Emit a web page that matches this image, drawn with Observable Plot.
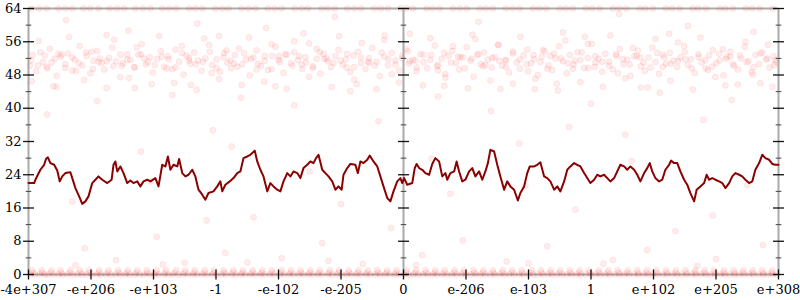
<!DOCTYPE html>
<html>
<head>
<meta charset="utf-8">
<script src="https://cdn.jsdelivr.net/npm/d3@7"></script>
<script src="https://cdn.jsdelivr.net/npm/@observablehq/plot@0.6"></script>
<style>
  html, body { margin: 0; padding: 0; background: #fff; }
  #chart svg { display: block; }
</style>
</head>
<body>
<div id="chart"></div>
<script>
// ---- tick positions / labels (x is the ordered bit position of a double, -6..6 = full range)
const xTickPos = [-6, -5, -4, -3, -2, -1, 0, 1, 2, 3, 4, 5, 6];
const xTickLabels = ["-4e+307", "-e+206", "-e+103", "-1", "-e-102", "-e-205", "0", "e-206", "e-103", "1", "e+102", "e+205", "e+308"];
const yMajor = [0, 8, 16, 24, 32, 40, 48, 56, 64];
const yMinor = [4, 12, 20, 28, 36, 44, 52, 60];
const axisPos = [-6, 0, 6];

// ---- moving-average line
const lineX = [-6.00,-5.91,-5.89,-5.81,-5.75,-5.72,-5.69,-5.65,-5.59,-5.54,-5.50,-5.46,-5.41,-5.33,-5.30,-5.25,-5.19,-5.14,-5.09,-5.04,-4.98,-4.93,-4.88,-4.82,-4.74,-4.67,-4.64,-4.61,-4.58,-4.53,-4.48,-4.42,-4.37,-4.32,-4.26,-4.21,-4.16,-4.10,-4.05,-3.97,-3.92,-3.86,-3.81,-3.77,-3.73,-3.68,-3.62,-3.59,-3.54,-3.49,-3.44,-3.38,-3.33,-3.28,-3.22,-3.17,-3.12,-3.04,-2.98,-2.93,-2.90,-2.85,-2.78,-2.72,-2.66,-2.61,-2.56,-2.50,-2.45,-2.38,-2.34,-2.29,-2.24,-2.18,-2.13,-2.08,-2.02,-1.97,-1.92,-1.86,-1.81,-1.76,-1.70,-1.65,-1.60,-1.54,-1.49,-1.44,-1.40,-1.36,-1.30,-1.25,-1.20,-1.14,-1.09,-1.04,-0.99,-0.96,-0.90,-0.85,-0.77,-0.73,-0.69,-0.64,-0.58,-0.54,-0.48,-0.42,-0.37,-0.32,-0.26,-0.21,-0.16,-0.10,-0.05,-0.02,
  0.01,0.06,0.14,0.18,0.21,0.25,0.30,0.35,0.41,0.46,0.51,0.57,0.62,0.67,0.70,0.75,0.81,0.85,0.89,0.94,0.99,1.05,1.10,1.15,1.21,1.26,1.31,1.35,1.39,1.45,1.50,1.55,1.61,1.66,1.71,1.77,1.83,1.87,1.93,1.98,2.02,2.09,2.14,2.19,2.25,2.30,2.35,2.41,2.46,2.51,2.57,2.62,2.67,2.73,2.78,2.83,2.89,2.94,2.99,3.05,3.10,3.15,3.21,3.26,3.31,3.37,3.42,3.47,3.53,3.58,3.63,3.69,3.74,3.79,3.85,3.90,3.94,3.98,4.03,4.09,4.14,4.19,4.25,4.28,4.33,4.38,4.43,4.49,4.54,4.59,4.65,4.69,4.75,4.81,4.85,4.89,4.94,4.99,5.05,5.10,5.15,5.21,5.26,5.31,5.37,5.42,5.47,5.53,5.58,5.63,5.69,5.74,5.79,5.85,5.90,5.95,6.00];
const lineY = [22.0,22.0,22.8,25.2,26.4,27.8,28.2,26.8,26.4,25.0,22.4,23.6,24.4,24.6,23.2,20.8,18.8,17.0,17.6,18.8,22.0,22.8,23.6,22.8,22.0,22.8,26.4,27.2,24.8,26.0,24.4,22.0,22.6,22.0,22.4,21.2,22.4,22.8,22.4,23.2,21.2,26.4,26.0,28.4,25.2,26.4,26.0,27.8,24.4,23.6,24.0,25.2,23.6,20.4,19.2,18.0,19.6,20.0,21.2,22.4,20.0,21.6,22.4,23.2,24.4,24.8,28.0,28.4,28.8,29.8,27.2,25.2,23.6,20.0,22.0,21.2,20.4,20.0,22.4,24.4,23.6,24.8,24.4,23.2,25.6,26.4,27.2,26.8,28.0,28.8,25.2,24.4,23.6,22.4,20.4,21.2,20.4,24.0,25.6,26.6,26.4,24.4,27.2,26.8,27.6,28.6,27.2,26.0,23.6,21.2,18.4,17.6,20.0,22.4,23.2,22.0,
  23.2,21.6,22.0,25.6,26.6,25.6,25.2,24.4,24.0,26.6,28.0,27.2,23.6,24.4,22.8,24.4,24.8,27.2,24.8,22.4,22.8,24.8,25.6,23.6,24.8,22.8,24.8,26.8,30.0,29.6,26.4,23.6,20.4,22.4,21.2,20.4,17.8,19.6,21.2,24.4,26.0,26.0,26.4,27.0,23.6,23.2,22.4,20.4,21.2,20.0,22.4,25.2,26.0,26.8,26.4,26.0,24.4,23.2,22.0,22.8,24.0,23.6,24.0,23.2,22.4,23.2,24.8,26.4,26.0,25.2,26.0,25.2,24.0,22.4,24.4,25.6,26.8,24.8,23.2,22.4,22.8,25.2,26.4,27.4,26.8,26.8,24.8,22.8,21.6,19.6,17.6,20.4,21.2,22.0,24.0,22.8,23.2,22.8,22.4,22.0,20.8,22.0,23.6,24.4,24.0,23.6,22.8,22.0,22.4,25.2,26.8,28.8,28.0,27.6,26.6,26.4,26.4];

// ---- scatter samples (x = bit position, y = value)
const bandA = [[-5.98,50.2],[-5.93,52.8],[-5.88,48.9],[-5.81,53.5],[-5.77,51.1],[-5.70,49.6],[-5.66,54.3],[-5.58,51.9],[-5.55,47.8],[-5.49,52.4],[-5.41,50.6],[-5.37,53.2],[-5.30,49.1],[-5.26,51.7],[-5.18,55.0],[-5.14,50.3],[-5.07,52.6],[-5.01,48.4],[-4.96,51.4],[-4.90,53.8],[-4.83,50.9],[-4.79,49.3],[-4.71,52.1],[-4.66,54.6],[-4.60,51.3],[-4.53,47.5],[-4.49,50.8],[-4.42,53.0],[-4.37,51.6],[-4.30,49.8],[-4.24,52.9],[-4.19,55.4],[-4.12,50.5],[-4.06,52.3],[-4.01,48.6],[-3.94,51.9],[-3.88,53.7],[-3.83,50.0],[-3.77,52.5],[-3.70,49.4],[-3.65,54.1],[-3.59,51.2],[-3.52,48.1],[-3.47,52.7],[-3.41,50.7],[-3.35,53.4],[-3.29,51.5],[-3.23,49.0],[-3.17,52.0],[-3.11,55.2],[-3.06,50.4],[-2.99,51.8],[-2.94,48.8],[-2.87,53.3],[-2.82,51.0],[-2.76,49.7],[-2.70,52.8],[-2.63,54.4],[-2.58,50.6],[-2.52,51.7],[-2.46,47.9],[-2.40,52.2],[-2.35,53.9],[-2.28,50.2],[-2.22,51.4],[-2.17,49.2],[-2.10,52.6],[-2.05,54.8],[-1.98,51.1],[-1.92,48.5],[-1.87,52.9],[-1.80,50.8],[-1.75,53.5],[-1.69,51.6],[-1.62,49.5],[-1.57,52.3],[-1.51,55.6],[-1.45,50.1],[-1.39,51.9],[-1.33,48.3],[-1.28,53.1],[-1.21,51.3],[-1.16,49.9],[-1.09,52.5],[-1.04,54.0],[-0.97,50.5],[-0.92,51.8],[-0.85,48.7],[-0.80,52.7],[-0.73,53.6],[-0.68,50.9],[-0.61,49.4],[-0.55,52.1],[-0.50,54.5],[-0.43,51.2],[-0.38,47.7],[-0.31,52.4],[-0.25,50.3],[-0.19,53.3],[-0.13,51.5],[-0.07,49.1],[-0.02,52.0],
  [0.04,54.2],[0.09,50.7],[0.15,51.6],[0.21,48.9],[0.27,53.0],[0.32,51.1],[0.38,49.6],[0.44,52.8],[0.50,55.1],[0.55,50.4],[0.61,51.9],[0.67,48.2],[0.72,52.6],[0.78,53.8],[0.84,50.9],[0.89,49.3],[0.95,52.2],[1.01,54.7],[1.07,51.4],[1.12,47.6],[1.18,52.9],[1.24,50.6],[1.29,53.4],[1.35,51.7],[1.41,49.8],[1.46,52.3],[1.52,55.3],[1.58,50.2],[1.64,51.5],[1.69,48.6],[1.75,53.2],[1.81,51.0],[1.86,49.5],[1.92,52.7],[1.98,54.1],[2.04,50.8],[2.09,51.8],[2.15,48.0],[2.21,52.4],[2.26,53.7],[2.32,50.3],[2.38,49.2],[2.43,52.0],[2.49,54.9],[2.55,51.3],[2.61,48.4],[2.66,52.8],[2.72,50.5],[2.78,53.5],[2.83,51.6],[2.89,49.7],[2.95,52.1],[3.01,55.5],[3.06,50.0],[3.12,51.9],[3.18,48.8],[3.23,53.1],[3.29,51.2],[3.35,49.4],[3.41,52.6],[3.46,54.3],[3.52,50.6],[3.58,51.7],[3.63,47.8],[3.69,52.5],[3.75,53.9],[3.80,50.1],[3.86,49.0],[3.92,52.2],[3.98,54.6],[4.03,51.1],[4.09,48.3],[4.15,52.9],[4.20,50.7],[4.26,53.3],[4.32,51.4],[4.38,49.9],[4.43,52.3],[4.49,55.0],[4.55,50.4],[4.60,51.8],[4.66,48.5],[4.72,53.0],[4.77,51.0],[4.83,49.6],[4.89,52.7],[4.95,54.0],[5.00,50.9],[5.06,51.5],[5.12,47.9],[5.17,52.4],[5.23,53.6],[5.29,50.2],[5.35,49.3],[5.40,52.0],[5.46,54.8],[5.52,51.3],[5.57,48.7],[5.63,52.8],[5.69,50.6],[5.74,53.4],[5.80,51.7],[5.86,49.8],[5.92,52.5],[5.97,51.0]];
const bandB = [[-5.95,46.5],[-5.84,56.2],[-5.71,50.0],[-5.60,45.3],[-5.47,52.9],[-5.35,57.1],[-5.24,49.0],[-5.11,46.8],[-4.99,53.6],[-4.88,51.2],[-4.75,44.9],[-4.63,56.5],[-4.51,50.2],[-4.39,47.3],[-4.27,54.7],[-4.15,52.0],[-4.03,45.8],[-3.91,57.4],[-3.79,49.6],[-3.67,46.1],[-3.55,55.0],[-3.43,51.4],[-3.31,44.4],[-3.19,56.8],[-3.07,48.5],[-2.95,47.0],[-2.83,53.9],[-2.71,50.8],[-2.59,45.6],[-2.47,57.0],[-2.35,49.3],[-2.23,46.4],[-2.11,55.4],[-1.99,52.5],[-1.87,44.7],[-1.75,56.1],[-1.63,50.5],[-1.51,47.6],[-1.39,54.3],[-1.27,51.9],[-1.15,45.1],[-1.03,57.3],[-0.91,49.8],[-0.79,46.9],[-0.67,55.7],[-0.55,50.9],[-0.43,44.6],[-0.31,56.4],[-0.19,48.2],[-0.07,46.2],[0.07,53.7],[0.19,51.5],[0.31,45.5],[0.43,56.9],[0.55,49.1],[0.67,47.4],[0.79,54.9],[0.91,52.3],[1.03,44.8],[1.15,56.6],[1.27,50.1],[1.39,46.7],[1.51,55.2],[1.63,51.6],[1.75,45.9],[1.87,57.2],[1.99,48.9],[2.11,47.1],[2.23,54.0],[2.35,52.6],[2.47,44.3],[2.59,56.3],[2.71,49.5],[2.83,46.3],[2.95,55.5],[3.07,51.0],[3.19,45.2],[3.31,57.5],[3.43,48.4],[3.55,47.2],[3.67,54.5],[3.79,52.2],[3.91,45.0],[4.03,56.7],[4.15,50.0],[4.27,46.6],[4.39,55.8],[4.51,51.8],[4.63,44.5],[4.75,57.0],[4.87,49.2],[4.99,47.5],[5.11,54.2],[5.23,52.4],[5.35,45.7],[5.47,56.0],[5.59,48.1],[5.71,46.0],[5.83,55.3],[5.95,51.6]];
const bandC = [[-5.96,51.5],[-5.85,50.3],[-5.74,52.7],[-5.63,51.0],[-5.52,53.1],[-5.41,49.7],[-5.30,52.2],[-5.19,50.8],[-5.08,53.4],[-4.97,49.5],[-4.86,52.0],[-4.75,51.3],[-4.64,50.1],[-4.53,52.9],[-4.42,51.7],[-4.31,49.9],[-4.20,53.0],[-4.09,51.1],[-3.98,50.4],[-3.87,52.4],[-3.76,51.8],[-3.65,49.8],[-3.54,53.3],[-3.43,52.1],[-3.32,50.6],[-3.21,51.2],[-3.10,53.6],[-2.99,49.6],[-2.88,52.3],[-2.77,51.4],[-2.66,50.0],[-2.55,53.2],[-2.44,51.9],[-2.33,50.7],[-2.22,52.6],[-2.11,49.4],[-2.00,51.6],[-1.89,53.0],[-1.78,50.2],[-1.67,52.5],[-1.56,51.0],[-1.45,49.7],[-1.34,53.5],[-1.23,52.0],[-1.12,50.9],[-1.01,51.5],[-0.90,53.1],[-0.79,49.9],[-0.68,52.2],[-0.57,51.2],[-0.46,50.3],[-0.35,53.4],[-0.24,51.8],[-0.13,50.5],[-0.02,52.7],[0.10,51.3],[0.21,49.8],[0.32,52.9],[0.43,51.6],[0.54,50.1],[0.65,53.3],[0.76,51.0],[0.87,52.4],[0.98,49.6],[1.09,51.9],[1.20,53.0],[1.31,50.4],[1.42,52.1],[1.53,51.4],[1.64,49.9],[1.75,53.6],[1.86,51.7],[1.97,50.6],[2.08,52.8],[2.19,51.1],[2.30,49.5],[2.41,53.2],[2.52,52.0],[2.63,50.8],[2.74,51.5],[2.85,53.4],[2.96,49.7],[3.07,52.5],[3.18,51.2],[3.29,50.2],[3.40,53.0],[3.51,51.8],[3.62,50.5],[3.73,52.6],[3.84,51.0],[3.95,49.8],[4.06,53.3],[4.17,52.2],[4.28,50.7],[4.39,51.4],[4.50,53.5],[4.61,49.6],[4.72,52.3],[4.83,51.6],[4.94,50.0],[5.05,53.1],[5.16,51.9],[5.27,50.6],[5.38,52.7],[5.49,51.1],[5.60,49.9],[5.71,53.2],[5.82,52.0],[5.93,50.4]];
const zeroX = [-5.97,-5.90,-5.82,-5.74,-5.69,-5.60,-5.52,-5.45,-5.38,-5.29,-5.22,-5.14,-5.07,-4.99,-4.91,-4.84,-4.76,-4.68,-4.61,-4.53,-4.45,-4.38,-4.30,-4.22,-4.15,-4.06,-3.99,-3.92,-3.83,-3.76,-3.69,-3.60,-3.53,-3.45,-3.37,-3.30,-3.22,-3.14,-3.06,-2.99,-2.91,-2.84,-2.75,-2.68,-2.60,-2.53,-2.45,-2.37,-2.29,-2.22,-2.14,-2.07,-1.98,-1.91,-1.83,-1.76,-1.68,-1.60,-1.52,-1.45,-1.37,-1.30,-1.21,-1.14,-1.06,-0.99,-0.91,-0.83,-0.76,-0.68,-0.60,-0.53,-0.45,-0.37,-0.30,-0.22,-0.14,-0.07,0.01,0.08,0.16,0.24,0.31,0.39,0.47,0.54,0.62,0.70,0.77,0.85,0.93,1.00,1.08,1.16,1.23,1.31,1.39,1.46,1.54,1.62,1.69,1.77,1.85,1.92,2.00,2.08,2.15,2.23,2.31,2.38,2.46,2.54,2.61,2.69,2.77,2.84,2.92,3.00,3.07,3.15,3.23,3.30,3.38,3.46,3.53,3.61,3.69,3.76,3.84,3.92,3.99,4.07,4.15,4.22,4.30,4.38,4.45,4.53,4.61,4.68,4.76,4.84,4.91,4.99,5.07,5.14,5.22,5.30,5.37,5.45,5.53,5.60,5.68,5.76,5.83,5.91,5.98];
const zeroB = [-5.93,-5.78,-5.64,-5.48,-5.34,-5.17,-5.02,-4.88,-4.73,-4.56,-4.42,-4.27,-4.10,-3.96,-3.81,-3.66,-3.50,-3.35,-3.19,-3.04,-2.87,-2.73,-2.58,-2.42,-2.27,-2.10,-1.96,-1.81,-1.64,-1.50,-1.35,-1.19,-1.04,-0.87,-0.73,-0.58,-0.41,-0.27,-0.12,0.04,0.19,0.36,0.50,0.65,0.81,0.96,1.13,1.27,1.44,1.58,1.73,1.90,2.04,2.21,2.35,2.50,2.67,2.81,2.98,3.12,3.27,3.44,3.58,3.75,3.89,4.04,4.21,4.35,4.52,4.66,4.81,4.98,5.12,5.29,5.43,5.58,5.75,5.89];
const oneX = [-5.94,-5.79,-5.63,-5.49,-5.33,-5.18,-5.03,-4.87,-4.72,-4.57,-4.41,-4.26,-4.11,-3.95,-3.80,-3.64,-3.49,-3.34,-3.18,-3.03,-2.88,-2.72,-2.57,-2.41,-2.26,-2.11,-1.95,-1.80,-1.65,-1.49,-1.34,-1.18,-1.03,-0.88,-0.72,-0.57,-0.42,-0.26,-0.11,0.05,0.20,0.35,0.51,0.66,0.82,0.97,1.12,1.28,1.43,1.59,1.74,1.89,2.05,2.20,2.36,2.51,2.66,2.82,2.97,3.13,3.28,3.43,3.59,3.74,3.90,4.05,4.20,4.36,4.51,4.67,4.82,4.97,5.13,5.28,5.44,5.59,5.74,5.90];
const topX = [-5.95,-5.71,-5.52,-5.30,-5.12,-4.88,-4.70,-4.47,-4.29,-4.05,-3.86,-3.64,-3.43,-3.22,-3.01,-2.80,-2.59,-2.37,-2.17,-1.95,-1.74,-1.53,-1.31,-1.10,-0.90,-0.68,-0.47,-0.25,-0.05,0.15,0.37,0.58,0.79,1.01,1.22,1.43,1.64,1.86,2.07,2.28,2.50,2.71,2.92,3.14,3.35,3.56,3.78,3.99,4.20,4.42,4.63,4.84,5.06,5.27,5.48,5.70,5.91];
const topB = [-5.83,-5.41,-5.01,-4.58,-4.17,-3.75,-3.33,-2.90,-2.48,-2.06,-1.63,-1.21,-0.79,-0.36,0.05,0.47,0.90,1.32,1.75,2.17,2.60,3.02,3.45,3.87,4.30,4.72,5.15,5.58];
const sparse = [[-5.7,38.5],[-5.4,61.2],[-5.1,6.3],[-4.9,41.8],[-4.6,3.4],[-4.4,58.7],[-4.2,29.6],[-3.95,9.1],[-3.7,43.2],[-3.5,2.8],[-3.3,60.4],[-3.05,34.7],[-2.85,5.2],[-2.6,42.5],[-2.4,13.8],[-2.2,59.3],[-1.95,3.9],[-1.75,40.7],[-1.5,24.8],[-1.3,7.6],[-1.1,62.0],[-0.85,44.1],[-0.65,2.5],[-0.4,36.9],[-0.2,11.2],[0.1,57.9],[0.3,4.7],[0.55,42.8],[0.75,19.4],[0.95,8.2],[1.2,60.8],[1.4,39.3],[1.65,3.1],[1.85,31.5],[2.1,44.6],[2.3,6.8],[2.55,58.2],[2.75,15.6],[3.0,41.1],[3.2,2.6],[3.45,62.7],[3.65,27.3],[3.9,5.9],[4.1,43.7],[4.35,10.4],[4.55,59.8],[4.8,37.2],[5.0,3.7],[5.25,42.0],[5.5,21.5],[5.75,7.1],[5.9,45.2],
  [-5.55,45.1],[-5.25,2.2],[-4.75,57.6],[-4.3,44.9],[-3.85,2.4],[-3.4,45.6],[-2.95,57.4],[-2.5,2.9],[-2.05,45.3],[-1.6,58.0],[-1.2,3.3],[-0.75,45.8],[-0.3,57.5],[0.2,2.3],[0.65,45.4],[1.1,57.7],[1.55,44.7],[2.0,2.7],[2.45,45.9],[2.9,57.2],[3.35,3.5],[3.8,45.0],[4.25,57.9],[4.7,2.1],[5.15,45.5],[5.6,58.4],
  [-5.3,17.5],[-4.05,22.4],[-2.75,30.8],[-1.0,16.9],[0.45,27.9],[1.95,21.3],[3.55,33.6],[4.95,14.2],[-3.15,13.0],[2.65,35.5]];

// ---- build tables
const points = [
  ...bandA, ...bandB, ...bandC, ...sparse,
  ...zeroX.map(x => [x, 0]), ...zeroB.map(x => [x, 0.4]), ...oneX.map(x => [x, 1]),
  ...topX.map(x => [x, 64]), ...topB.map(x => [x, 64])
];
const line = lineX.map((x, i) => ({x, y: lineY[i]}));
const majorTicks = axisPos.flatMap(x => yMajor.map(y => ({x, y})));
const minorTicks = axisPos.flatMap(x => yMinor.map(y => ({x, y})));
const xTicks = xTickPos.map((x, i) => ({x, label: xTickLabels[i]}));

// tick glyphs as custom symbols (length in px from r)
const hTick = {draw(ctx, size) { const r = Math.sqrt(size / Math.PI); ctx.moveTo(-r, 0); ctx.lineTo(r, 0); }};
const vTick = {draw(ctx, size) { const r = Math.sqrt(size / Math.PI); ctx.moveTo(0, -r); ctx.lineTo(0, r); }};

const chart = Plot.plot({
  width: 800,
  height: 300,
  marginLeft: 28,
  marginRight: 22,
  marginTop: 8,
  marginBottom: 26,
  style: {fontFamily: "'DejaVu Serif', serif", fontSize: "13px", background: "#fff", color: "#000"},
  x: {type: "linear", domain: [-6, 6], axis: null},
  y: {type: "linear", domain: [0, 64], axis: null},
  marks: [
    Plot.ruleY([0, 64], {stroke: "#aaa", strokeWidth: 2}),
    Plot.dot(points, {x: d => d[0], y: d => d[1], r: 3, fill: "red", fillOpacity: 0.07, stroke: "red", strokeOpacity: 0.07, strokeWidth: 1}),
    Plot.ruleX(axisPos, {stroke: "#aaa", strokeWidth: 2}),
    Plot.dot(minorTicks, {x: "x", y: "y", symbol: hTick, r: 2.8, stroke: "#444", fill: "none", strokeWidth: 1}),
    Plot.dot(majorTicks, {x: "x", y: "y", symbol: hTick, r: 5.5, stroke: "#111", fill: "none", strokeWidth: 1.3}),
    Plot.dot(xTicks, {x: "x", y: () => 0, symbol: vTick, r: 5, stroke: "#111", fill: "none", strokeWidth: 1.3}),
    Plot.line(line, {x: "x", y: "y", stroke: "#8b0000", strokeWidth: 2}),
    Plot.text(yMajor, {x: () => -6, y: d => d, text: d => String(d), dx: -7, textAnchor: "end", fill: "#000"}),
    Plot.text(xTicks, {x: "x", y: () => 0, text: "label", dy: 15, fill: "#000"})
  ]
});
document.getElementById("chart").appendChild(chart);
</script>
</body>
</html>
